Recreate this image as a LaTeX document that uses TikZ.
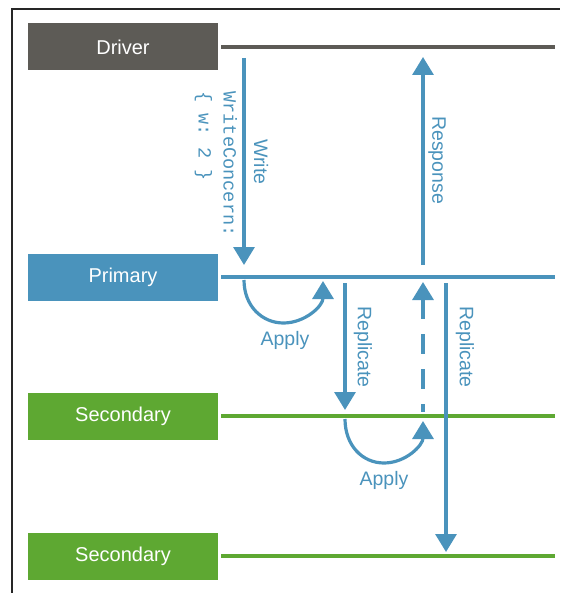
\documentclass[tikz,border=0pt]{standalone}
\usepackage{fontspec}
\setmainfont{Liberation Sans}
\setmonofont{Liberation Mono}
\usetikzlibrary{arrows.meta}

\definecolor{drivergray}{HTML}{5D5B56}
\definecolor{primaryblue}{HTML}{4A93BC}
\definecolor{secgreen}{HTML}{5EA832}

\begin{document}
\begin{tikzpicture}[x=1pt,y=-1pt,
        role/.style={minimum width=190pt, minimum height=47pt, inner sep=0pt,
                     text=white, font=\fontsize{20}{24}\selectfont},
        life/.style={line width=3.5pt},
        msg/.style={primaryblue, line width=3.2pt, -{Triangle[width=21pt,length=18pt]}},
        lbl/.style={primaryblue, font=\fontsize{19.5}{23}\selectfont, inner sep=0pt}]
    \useasboundingbox (0,0) rectangle (560,593);
    \draw[line width=2pt, black!85] (12,593) -- (12,9) -- (560,9);

    % roles and their lines
    \node[role, fill=drivergray] (driver) at (123,47) {Driver};
    \node[role, fill=primaryblue] (primary) at (123,277) {Primary};
    \node[role, fill=secgreen] (secA) at (123,416) {Secondary};
    \node[role, fill=secgreen] (secB) at (123,556) {Secondary};
    \draw[life, drivergray] ([xshift=3pt]driver.east) -- (555,47) coordinate (driver end);
    \draw[life, primaryblue] ([xshift=3pt]primary.east) -- (555,277) coordinate (primary end);
    \draw[life, secgreen] ([xshift=3pt]secA.east) -- (555,416) coordinate (secA end);
    \draw[life, secgreen] ([xshift=3pt]secB.east) -- (555,556) coordinate (secB end);

    % write and response
    \coordinate (write start) at (244,58);
    \coordinate (write end) at (244,265);
    \draw[msg] (write start) -- (write end);
    \node[lbl, rotate=-90] (write) at (261,162) {Write};
    \node[lbl, rotate=-90, align=left, font=\fontsize{18.6}{25}\ttfamily] (concern) at (216,164)
        {WriteConcern:\\\{ w: 2 \}};
    \coordinate (resp start) at (423,265);
    \coordinate (resp end) at (423,57);
    \draw[msg] (resp start) -- (resp end);
    \node[lbl, rotate=-90] (response) at (437,160) {Response};

    % apply on primary
    \coordinate (applyA start) at (244,280);
    \coordinate (applyA end) at (323,281);
    \draw[msg] (applyA start) .. controls (244,306) and (262,323) .. (283.5,323)
        .. controls (305,323) and (323,306) .. (applyA end);
    \node[lbl] (applyA) at (285,340) {Apply};

    % replication to the secondaries
    \coordinate (repA start) at (345,283);
    \coordinate (repA end) at (345,410);
    \draw[msg] (repA start) -- (repA end);
    \node[lbl, rotate=-90] (repA) at (363,347) {Replicate};
    \coordinate (repB start) at (446,283);
    \coordinate (repB end) at (446,552);
    \draw[msg] (repB start) -- (repB end);
    \node[lbl, rotate=-90] (repB) at (465,347) {Replicate};

    % apply on the first secondary and its ack
    \coordinate (applyB start) at (345,419);
    \coordinate (applyB end) at (423,421);
    \draw[msg] (applyB start) .. controls (345,445) and (362,463) .. (384,463)
        .. controls (406,463) and (423,445) .. (applyB end);
    \node[lbl] (applyB) at (384,480) {Apply};
    \coordinate (ack start) at (423,282);
    \coordinate (ack end) at (423,412);
    \draw[primaryblue, line width=3.2pt, dash pattern=on 20pt off 15pt,
        {Triangle[width=21pt,length=18pt]}-] (ack start) -- (ack end);
\end{tikzpicture}
\end{document}
